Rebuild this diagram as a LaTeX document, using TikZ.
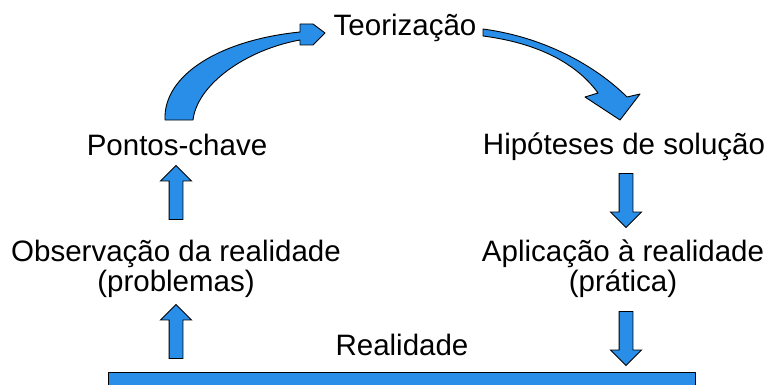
\documentclass[tikz,border=0pt]{standalone}
\usepackage{fontspec}
\setmainfont{Liberation Sans}
\usetikzlibrary{shapes.arrows}
\definecolor{azul}{RGB}{40,142,232}

\begin{document}
\begin{tikzpicture}[x=1pt,y=-1pt,
	texto/.style={anchor=base, inner sep=0pt, align=center, font=\fontsize{29.5}{29.5}\selectfont},
	seta/.style={single arrow, draw=black, fill=azul, line width=0.9pt, inner sep=6.5pt,
		single arrow head extend=8.5pt, minimum height=54pt},
	bloco/.style={draw=black, fill=azul, line width=0.9pt, line join=round}]
	\useasboundingbox (0,0) rectangle (770,385);
	
	% textos
	\node[texto] (teor) at (405,36) {Teorização};
	\node[texto] (pontos) at (177,155) {Pontos-chave};
	\node[texto] (hipot) at (624,154) {Hipóteses de solução};
	\node[texto] (obs) at (176,291) {Observação da realidade\\(problemas)};
	\node[texto] (aplic) at (623,291) {Aplicação à realidade\\(prática)};
	\node[texto] (real) at (402,355) {Realidade};
	
	% setas retas
	\foreach \x/\y/\r [count=\i] in {176/196/90, 626/197/-90, 176/335/90, 626/335/-90}
	{
		\node(seta\i)[seta, rotate=\r] at (\x,\y) {};
	}
	
	% setas curvas
	\draw[bloco] (165,120) .. controls (163,75) and (220,40) .. (300,32)
		-- (300,24) -- (313,24) -- (325,33) -- (313,45) -- (300,45) -- (300,40)
		.. controls (245,50) and (197,85) .. (193,120) -- cycle;
	\draw[bloco] (483,29) .. controls (550,38) and (600,70) .. (627,97)
		-- (640,94) -- (620,120) -- (585,97) -- (598,93)
		.. controls (580,68) and (545,44) .. (483,36) -- cycle;
	
	% barra da realidade
	\node(barra)[bloco, anchor=north west, minimum width=587pt, minimum height=30pt] at (108,372) {};
\end{tikzpicture}
\end{document}
